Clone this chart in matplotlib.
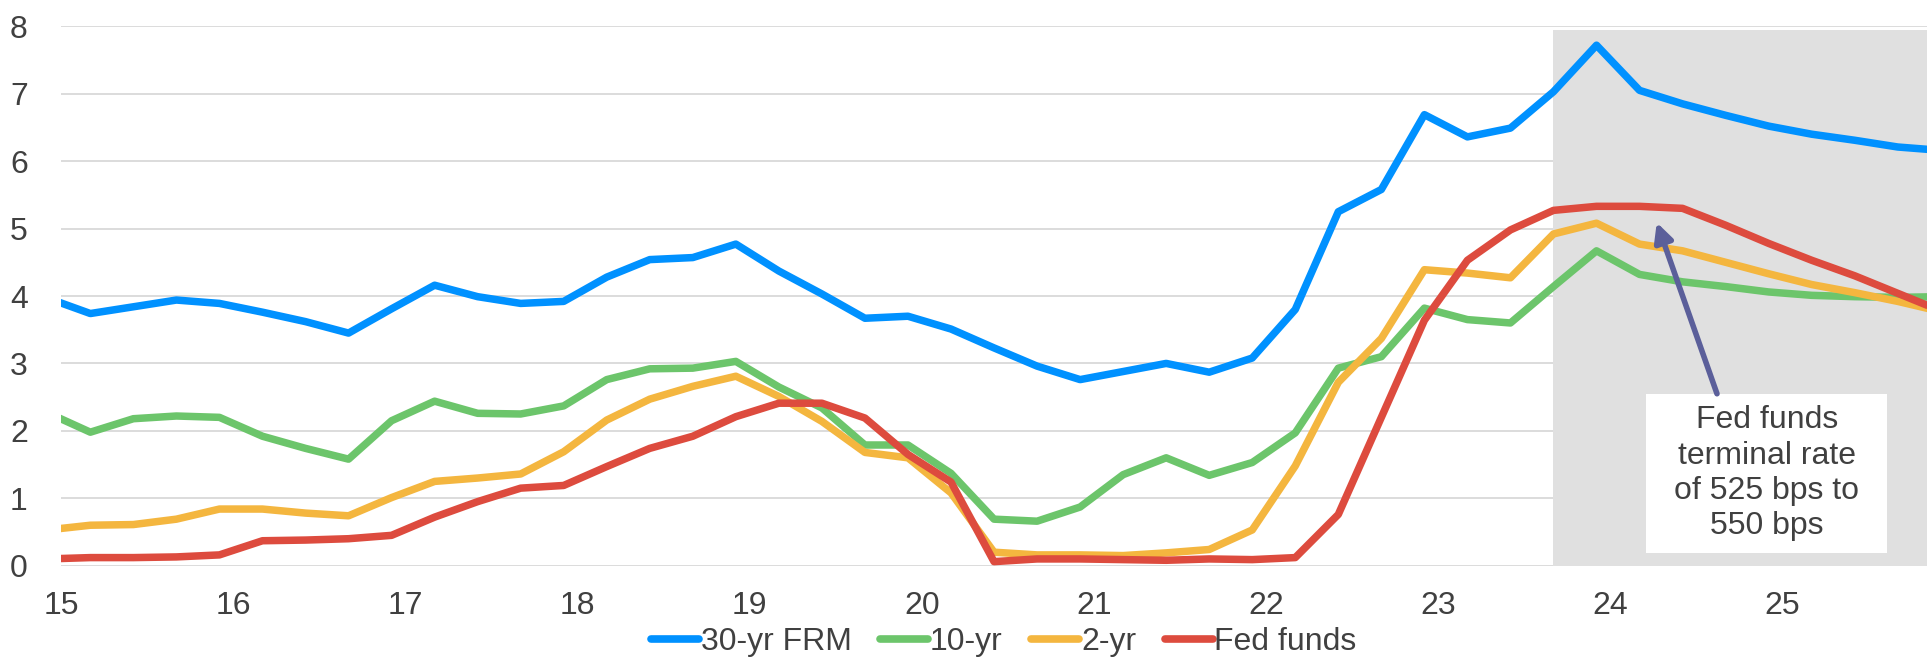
import matplotlib
matplotlib.use("Agg")
import matplotlib.pyplot as plt
from matplotlib.patches import Rectangle

plt.rcParams["font.family"] = ["Liberation Sans", "DejaVu Sans"]

# quarter-end dates as fractional years (Mar, Jun, Sep, Dec), Dec-14 .. Dec-25
quarters = [14.92,
            15.17, 15.42, 15.67, 15.92, 16.17, 16.42, 16.67, 16.92,
            17.17, 17.42, 17.67, 17.92, 18.17, 18.42, 18.67, 18.92,
            19.17, 19.42, 19.67, 19.92, 20.17, 20.42, 20.67, 20.92,
            21.17, 21.42, 21.67, 21.92, 22.17, 22.42, 22.67, 22.92,
            23.17, 23.42, 23.67, 23.92, 24.17, 24.42, 24.67, 24.92,
            25.17, 25.42, 25.67, 25.92]

frm30 = [3.97,
         3.74, 3.84, 3.94, 3.89, 3.76, 3.62, 3.45, 3.81,
         4.16, 3.99, 3.89, 3.92, 4.28, 4.54, 4.57, 4.77,
         4.37, 4.03, 3.67, 3.70, 3.51, 3.23, 2.96, 2.76,
         2.88, 3.00, 2.87, 3.08, 3.80, 5.25, 5.58, 6.69,
         6.36, 6.49, 7.03, 7.72, 7.05, 6.85, 6.68, 6.52,
         6.40, 6.31, 6.21, 6.16]

ust10 = [2.27,
         1.98, 2.18, 2.22, 2.20, 1.92, 1.74, 1.58, 2.15,
         2.44, 2.26, 2.25, 2.37, 2.76, 2.92, 2.93, 3.03,
         2.65, 2.34, 1.79, 1.79, 1.37, 0.69, 0.66, 0.87,
         1.35, 1.60, 1.34, 1.53, 1.97, 2.93, 3.10, 3.82,
         3.65, 3.60, 4.14, 4.67, 4.32, 4.21, 4.14, 4.06,
         4.01, 3.99, 3.98, 3.99]

ust2 = [0.53,
        0.60, 0.61, 0.69, 0.84, 0.84, 0.78, 0.74, 1.01,
        1.25, 1.30, 1.36, 1.69, 2.16, 2.47, 2.66, 2.81,
        2.51, 2.14, 1.68, 1.60, 1.08, 0.20, 0.16, 0.16,
        0.15, 0.19, 0.24, 0.53, 1.48, 2.72, 3.37, 4.39,
        4.34, 4.27, 4.92, 5.08, 4.77, 4.67, 4.50, 4.33,
        4.17, 4.05, 3.92, 3.77]

fed_funds = [0.10,
             0.12, 0.12, 0.13, 0.16, 0.37, 0.38, 0.40, 0.45,
             0.72, 0.95, 1.15, 1.19, 1.47, 1.74, 1.92, 2.21,
             2.41, 2.41, 2.19, 1.65, 1.24, 0.06, 0.10, 0.10,
             0.09, 0.08, 0.10, 0.09, 0.12, 0.76, 2.20, 3.64,
             4.53, 4.98, 5.27, 5.33, 5.33, 5.30, 5.05, 4.78,
             4.53, 4.30, 4.04, 3.78]

year_ticks = [15, 16, 17, 18, 19, 20, 21, 22, 23, 24, 25]
year_labels = ["15", "16", "17", "18", "19", "20", "21", "22", "23", "24", "25"]
forecast_start = 23.67

series = [("30-yr FRM", frm30, "#0091FF"),
          ("10-yr", ust10, "#6CC56B"),
          ("2-yr", ust2, "#F4B63F"),
          ("Fed funds", fed_funds, "#DD4B3E")]

TXT = "#404040"
FS = 23

fig = plt.figure(figsize=(19.27, 6.58), dpi=100)
ax = fig.add_axes([0.0317, 0.1403, 0.9683, 0.8197])
ax.set_xlim(15, 25.84)
ax.set_ylim(0, 8)

# forecast shading (behind the lines, over the gridlines)
ax.axvspan(forecast_start, 26, ymin=0, ymax=7.95 / 8, color="#E0E0E0", lw=0, zorder=1)

for label, vals, col in series:
    ax.plot(quarters, vals, color=col, lw=5.4, label=label,
            solid_joinstyle="round", solid_capstyle="butt", zorder=3)

ax.set_yticks(range(0, 9))
ax.set_xticks(year_ticks)
ax.set_xticklabels(year_labels)
ax.grid(axis="y", color="#D9D9D9", lw=1.3, zorder=0)
ax.set_axisbelow(True)
ax.tick_params(length=0, labelsize=FS, labelcolor=TXT)
ax.tick_params(axis="y", pad=24)
ax.tick_params(axis="x", pad=18)
for s in ax.spines.values():
    s.set_visible(False)

# annotation box + arrow
ax.add_patch(Rectangle((24.21, 0.19), 1.40, 2.36, facecolor="white",
                       edgecolor="none", zorder=4))
ax.text(24.91, 1.37, "Fed funds\nterminal rate\nof 525 bps to\n550 bps",
        ha="center", va="center", fontsize=FS, color=TXT, linespacing=1.23, zorder=5)
ax.annotate("", xy=(24.27, 5.09), xytext=(24.62, 2.55),
            arrowprops=dict(arrowstyle="-|>", color="#5B5F9A", lw=4,
                            mutation_scale=28, shrinkA=0, shrinkB=0),
            zorder=4)

leg = fig.legend(loc="center", bbox_to_anchor=(0.521, 0.024), ncol=4, frameon=False,
                 fontsize=FS, handlelength=1.5, handletextpad=0.05, columnspacing=0.9,
                 borderaxespad=0, borderpad=0)
for h in leg.get_lines():
    h.set_linewidth(5.5)
    h.set_solid_capstyle("round")
for t in leg.get_texts():
    t.set_color(TXT)

fig.savefig("out.png", dpi=100)
